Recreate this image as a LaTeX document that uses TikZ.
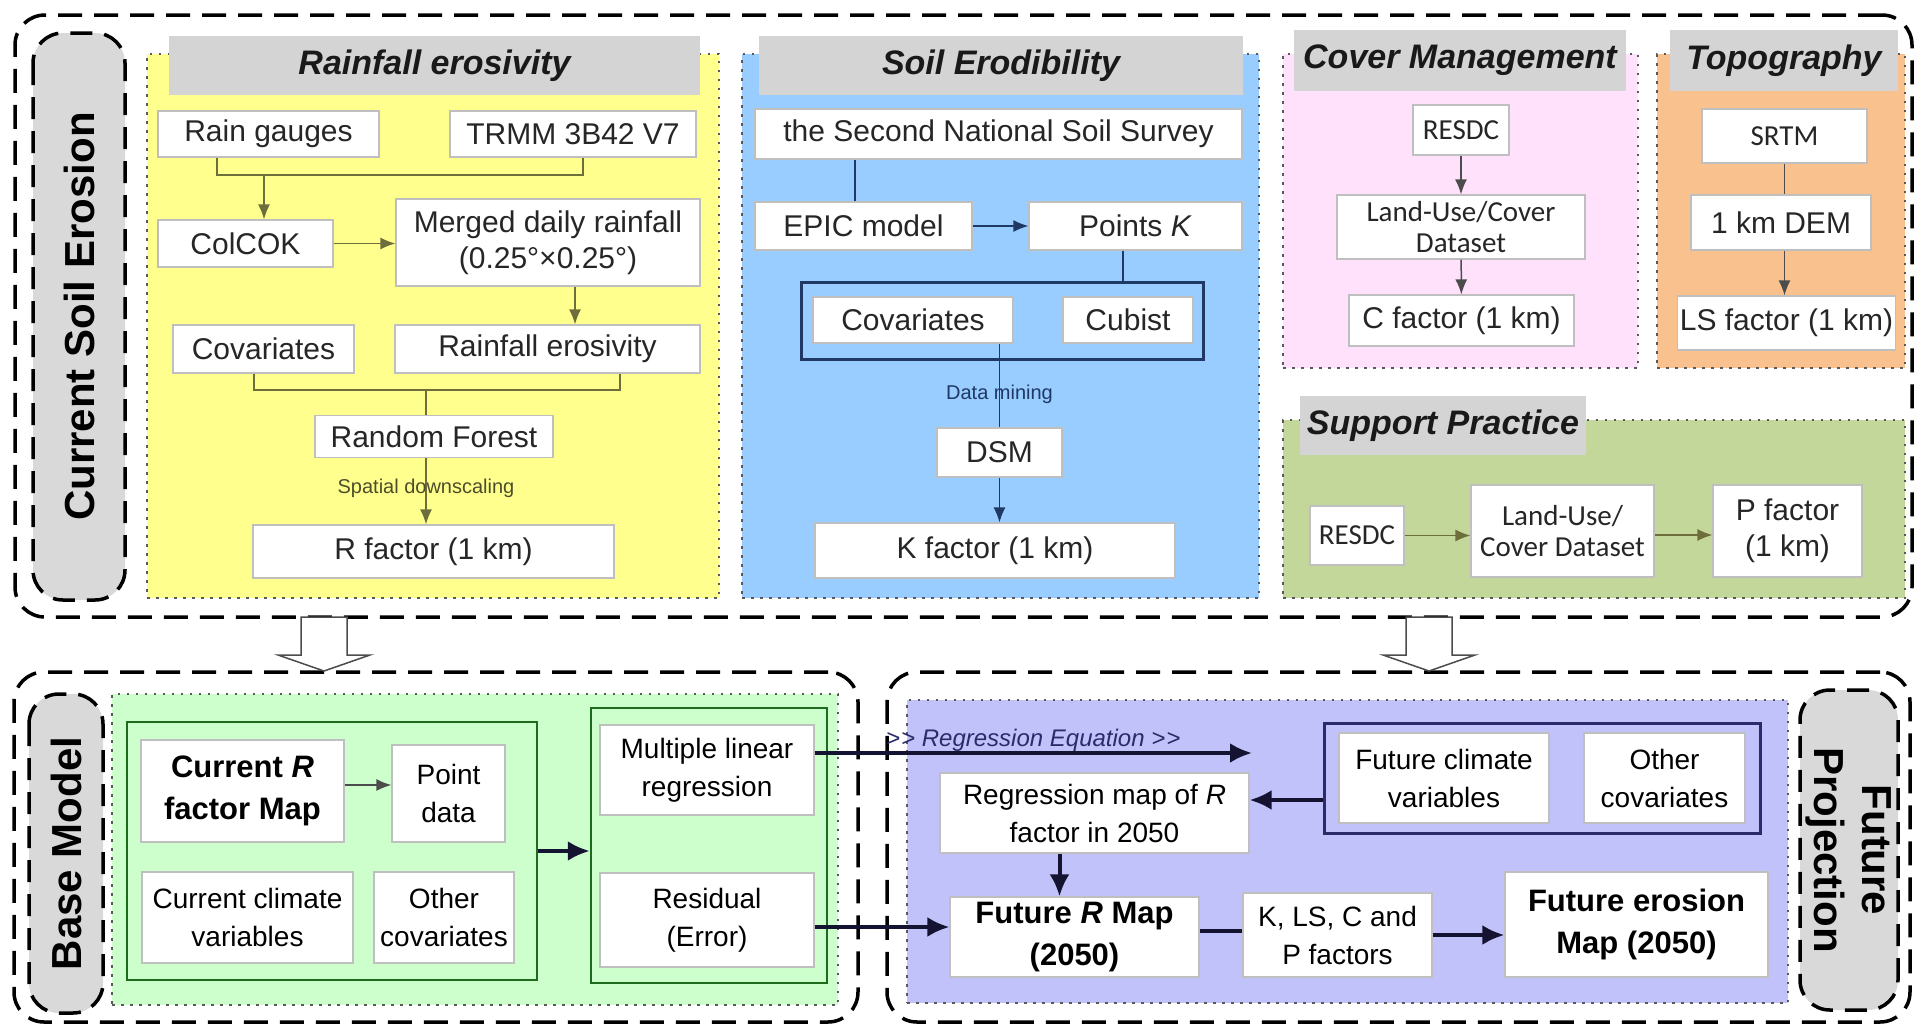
\documentclass[tikz,border=0pt]{standalone}
\usepackage{fontspec}
\setmainfont{Liberation Sans}
\newfontfamily\calibrifont{Carlito}
\usetikzlibrary{arrows.meta}

\definecolor{rainyellow}{HTML}{FFFF8E}
\definecolor{soilblue}{HTML}{99CCFF}
\definecolor{coverpink}{HTML}{FFE1FC}
\definecolor{topoorange}{HTML}{F9C18E}
\definecolor{suppgreen}{HTML}{C4D79B}
\definecolor{basegreen}{HTML}{CCFFCC}
\definecolor{futpurple}{HTML}{C2C2FA}
\definecolor{headgray}{HTML}{D4D4D4}
\definecolor{labelgray}{HTML}{D9D9D9}
\definecolor{olivegray}{HTML}{6E6E3C}
\definecolor{navyline}{HTML}{1F3864}
\definecolor{framegreen}{HTML}{1E6B1E}
\definecolor{framenavy}{HTML}{2B2B6B}
\definecolor{arrowblack}{HTML}{141432}

\begin{document}
\begin{tikzpicture}[x=1pt,y=-1pt,>={Latex[length=15pt,width=12pt]}]
\tikzstyle{box}=[rectangle,draw=black!25,line width=1.2pt,fill=white,inner sep=2pt,align=center,text=black!85,font=\fontsize{30}{36}\selectfont]
\tikzstyle{calbox}=[box,font=\calibrifont\fontsize{29}{31}\selectfont]
\tikzstyle{lowbox}=[box,text=black,font=\fontsize{28}{38}\selectfont]
\tikzstyle{boldbox}=[lowbox,font=\bfseries\fontsize{31}{42}\selectfont]
\tikzstyle{headbar}=[rectangle,fill=headgray,inner sep=0pt,text=black!90,font=\bfseries\itshape\fontsize{34}{40}\selectfont]
\tikzstyle{panel}=[rectangle,draw=black!65,line width=2.5pt,dash pattern=on 2.5pt off 6.5pt]
\tikzstyle{dashframe}=[rectangle,draw=black,line width=3.5pt,dash pattern=on 24pt off 12pt,rounded corners=30pt]
\tikzstyle{sidelabel}=[rectangle,draw=black,fill=labelgray,line width=3.5pt,dash pattern=on 22pt off 12pt,rounded corners=30pt,align=center,font=\bfseries\fontsize{42}{48}\selectfont]
\tikzstyle{yline}=[draw=olivegray,line width=1.5pt]
\tikzstyle{bline}=[draw=navyline,line width=1.5pt]
\tikzstyle{gline}=[draw=black!70,line width=1.5pt]
\tikzstyle{bigarrow}=[->,>={Latex[length=22pt,width=20pt]},draw=arrowblack,line width=4pt]
\tikzstyle{smalllabel}=[inner sep=0pt,font=\fontsize{20}{24}\selectfont]
\tikzstyle{hollowarrow}=[draw=black!70,fill=white,line width=1.5pt]

\useasboundingbox (0,0) rectangle (1923,1026);

% dashed outer frames
\node[dashframe,minimum width=1897pt,minimum height=602pt] (topframe) at (963.5,316) {};
\node[dashframe,minimum width=844pt,minimum height=350pt] (baseframe) at (436,847) {};
\node[dashframe,minimum width=1023pt,minimum height=350pt] (futframe) at (1398.5,847) {};

\node[sidelabel,rotate=90,minimum width=567pt,minimum height=92pt] (cselabel) at (79,316.5) {Current Soil Erosion};
\node[sidelabel,rotate=90,minimum width=319pt,minimum height=74pt] (baselabel) at (66,853.5) {Base Model};
\node[sidelabel,rotate=-90,minimum width=320pt,minimum height=98pt] (futlabel) at (1849,850) {Future\\Projection};

% coloured panels
\node[panel,fill=rainyellow,minimum width=572pt,minimum height=544pt] (rainpanel) at (433,326) {};
\node[panel,fill=soilblue,minimum width=517pt,minimum height=544pt] (soilpanel) at (1000.5,326) {};
\node[panel,fill=coverpink,minimum width=355pt,minimum height=314pt] (coverpanel) at (1460.5,211) {};
\node[panel,fill=topoorange,minimum width=248pt,minimum height=314pt] (topopanel) at (1781,211) {};
\node[panel,fill=suppgreen,minimum width=622pt,minimum height=178pt] (supppanel) at (1594,509) {};
\node[panel,fill=basegreen,minimum width=726pt,minimum height=311pt] (basepanel) at (475,849.5) {};
\node[panel,fill=futpurple,minimum width=881pt,minimum height=303pt] (futpanel) at (1347.5,851.5) {};

\node[headbar,minimum width=531pt,minimum height=59pt] (rainhead) at (434.5,65.5) {Rainfall erosivity};
\node[headbar,minimum width=484pt,minimum height=59pt] (soilhead) at (1001,65.5) {Soil Erodibility};
\node[headbar,minimum width=332pt,minimum height=61pt] (coverhead) at (1460,60.5) {Cover Management};
\node[headbar,minimum width=228pt,minimum height=61pt] (topohead) at (1784,60.5) {Topography};
\node[headbar,minimum width=286pt,minimum height=59pt] (supphead) at (1443,425.5) {Support Practice};

% rainfall erosivity
\node[box,minimum width=221pt,minimum height=46pt] (raingauge) at (268.5,134) {Rain gauges};
\node[box,minimum width=246pt,minimum height=46pt] (trmm) at (573,134) {TRMM 3B42 V7};
\node[box,minimum width=175pt,minimum height=47pt] (colcok) at (245.5,243.5) {ColCOK};
\node[box,minimum width=304pt,minimum height=87pt] (merged) at (548,242.5) {Merged daily rainfall\\(0.25°×0.25°)};
\node[box,minimum width=181pt,minimum height=48pt] (covar1) at (263.5,349) {Covariates};
\node[box,minimum width=305pt,minimum height=48pt] (rainero) at (547.5,349) {Rainfall erosivity};
\node[box,minimum width=238pt,minimum height=42pt] (rforest) at (434,436.5) {Random Forest};
\node[box,minimum width=361pt,minimum height=53pt] (rfactor) at (433.5,551.5) {R factor (1 km)};
\coordinate (bus1) at (264,175);
\coordinate (bus2) at (426,390);

\draw[yline] ([xshift=-51.5pt]raingauge.south) |- (bus1) -| ([xshift=10pt]trmm.south);
\draw[yline,->] (bus1) -- (bus1 |- colcok.north);
\draw[yline,->] (colcok.east) -- (colcok.east -| merged.west);
\draw[yline,->] ([xshift=27pt]merged.south) -- ([xshift=27pt]merged.south |- rainero.north);
\draw[yline] ([xshift=-9.5pt]covar1.south) |- (bus2) -| ([xshift=72.5pt]rainero.south);
\draw[yline] (bus2) -- (bus2 |- rforest.north);
\draw[yline,->] ([xshift=-8pt]rforest.south) -- node[smalllabel,text=olivegray!70!black,pos=0.45] {Spatial downscaling} ([xshift=-8pt]rforest.south |- rfactor.north);

% soil erodibility
\node[box,minimum width=487pt,minimum height=50pt] (survey) at (998.5,134) {the Second National Soil Survey};
\node[box,minimum width=217pt,minimum height=48pt] (epic) at (863.5,226) {EPIC model};
\node[box,minimum width=213pt,minimum height=48pt] (pointsk) at (1135.5,226) {Points \textit{K}};
\node[rectangle,draw=navyline,line width=3pt,minimum width=402pt,minimum height=77pt] (covframe) at (1002,320.5) {};
\node[box,minimum width=200pt,minimum height=46pt] (covar2) at (913,320) {Covariates};
\node[box,minimum width=130pt,minimum height=46pt] (cubist) at (1128,320) {Cubist};
\node[box,minimum width=125pt,minimum height=49pt] (dsm) at (999.5,452.5) {DSM};
\node[box,minimum width=360pt,minimum height=55pt] (kfactor) at (995,550.5) {K factor (1 km)};

\draw[bline] ([xshift=-8.5pt]epic.north) -- ([xshift=-8.5pt]epic.north |- survey.south);
\draw[bline,->] (epic) -- (pointsk);
\draw[bline] ([xshift=-12.5pt]pointsk.south) -- ([xshift=-12.5pt]pointsk.south |- covframe.north);
\draw[bline] (dsm.north |- covar2.south) -- node[smalllabel,text=navyline,pos=0.6] {Data mining} (dsm.north);
\draw[bline,->] (dsm) -- (dsm.south |- kfactor.north);

% cover management
\node[calbox,minimum width=96pt,minimum height=50pt] (resdc1) at (1461,130) {RESDC};
\node[calbox,minimum width=248pt,minimum height=64pt] (landuse1) at (1461,227) {Land-Use/Cover\\Dataset};
\node[box,minimum width=225pt,minimum height=51pt] (cfactor) at (1461.5,320.5) {C factor (1 km)};
\draw[gline,->] (resdc1) -- (landuse1);
\draw[gline,->] (landuse1) -- (cfactor);

% topography
\node[calbox,minimum width=165pt,minimum height=54pt] (srtm) at (1784.5,136) {SRTM};
\node[box,minimum width=180pt,minimum height=55pt] (dem) at (1781,222.5) {1 km DEM};
\node[box,minimum width=215pt,minimum height=54pt] (lsfactor) at (1786.5,323) {LS factor (1 km)};
\draw[gline] (srtm) -- (srtm |- dem.north);
\draw[gline,->] (srtm |- dem.south) -- (srtm |- lsfactor.north);

% support practice
\node[calbox,minimum width=94pt,minimum height=59pt] (resdc2) at (1357,535.5) {RESDC};
\node[calbox,minimum width=183pt,minimum height=92pt] (landuse2) at (1562.5,531) {Land-Use/\\Cover Dataset};
\node[box,minimum width=149pt,minimum height=92pt] (pfactor) at (1787.5,531) {P factor\\(1 km)};
\draw[yline,->] (resdc2.east) -- (resdc2.east -| landuse2.west);
\draw[yline,->] ([yshift=-4pt]landuse2.east) -- ([yshift=-4pt]landuse2.east -| pfactor.west);

% hollow arrows to the lower part
\foreach \ax in {324,1429}
  \draw[hollowarrow] (\ax-23,617) -- (\ax+23,617) -- (\ax+23,655) -- (\ax+46,655) -- (\ax,671) -- (\ax-46,655) -- (\ax-23,655) -- cycle;

% base model
\node[rectangle,draw=framegreen,line width=2.5pt,minimum width=410pt,minimum height=258pt] (leftframe) at (332,851) {};
\node[rectangle,draw=framegreen,line width=2.5pt,minimum width=236pt,minimum height=275pt] (rightframe) at (709,845.5) {};
\node[boldbox,minimum width=203pt,minimum height=102pt] (currentr) at (242.5,791) {Current \textit{R}\\factor Map};
\node[lowbox,minimum width=113pt,minimum height=97pt] (pointdata) at (448.5,793.5) {Point\\data};
\node[lowbox,minimum width=211pt,minimum height=91pt] (curclim) at (247.5,917.5) {Current climate\\variables};
\node[lowbox,minimum width=140pt,minimum height=91pt] (othercov1) at (444,917.5) {Other\\covariates};
\node[lowbox,minimum width=214pt,minimum height=90pt] (mlr) at (707,770) {Multiple linear\\regression};
\node[lowbox,minimum width=214pt,minimum height=94pt] (residual) at (707,920) {Residual\\(Error)};
\draw[gline,->] ([yshift=6pt]currentr.east) -- ([yshift=6pt]currentr.east -| pointdata.west);
\draw[bigarrow] (leftframe.east) -- (leftframe.east -| rightframe.west);

% future projection
\node[rectangle,draw=framenavy,line width=3pt,minimum width=436pt,minimum height=110pt] (inputframe) at (1542,778) {};
\node[lowbox,minimum width=210pt,minimum height=90pt] (futclim) at (1444,778) {Future climate\\variables};
\node[lowbox,minimum width=161pt,minimum height=90pt] (othercov2) at (1664.5,778) {Other\\covariates};
\node[lowbox,minimum width=309pt,minimum height=80pt] (regmap) at (1094.5,813) {Regression map of \textit{R}\\factor in 2050};
\node[boldbox,minimum width=249pt,minimum height=80pt] (futr) at (1074.5,937) {Future \textit{R} Map\\(2050)};
\node[lowbox,minimum width=189pt,minimum height=84pt] (klscp) at (1337.5,935) {K, LS, C and\\P factors};
\node[boldbox,minimum width=263pt,minimum height=105pt] (futero) at (1636.5,924.5) {Future erosion\\Map (2050)};
\coordinate (regend) at (1252,753);

\draw[bigarrow] ([yshift=17pt]mlr.east) -- node[above=-1pt,inner sep=1pt,text=framenavy,font=\itshape\fontsize{24}{28}\selectfont] {>\kern1pt> Regression Equation >\kern1pt>} (regend);
\draw[bigarrow] ([yshift=-22pt]inputframe.west) -- ([yshift=-22pt]inputframe.west -| regmap.east);
\draw[bigarrow] ([xshift=-35pt]regmap.south) -- ([xshift=-35pt]regmap.south |- futr.north);
\draw[bigarrow] ([yshift=-7pt]residual.east) -- ([yshift=-7pt]residual.east -| futr.west);
\draw[draw=arrowblack,line width=4pt] ([yshift=6pt]futr.east) -- ([yshift=6pt]futr.east -| klscp.west);
\draw[bigarrow] (klscp.east) -- (klscp.east -| futero.west);
\end{tikzpicture}
\end{document}
